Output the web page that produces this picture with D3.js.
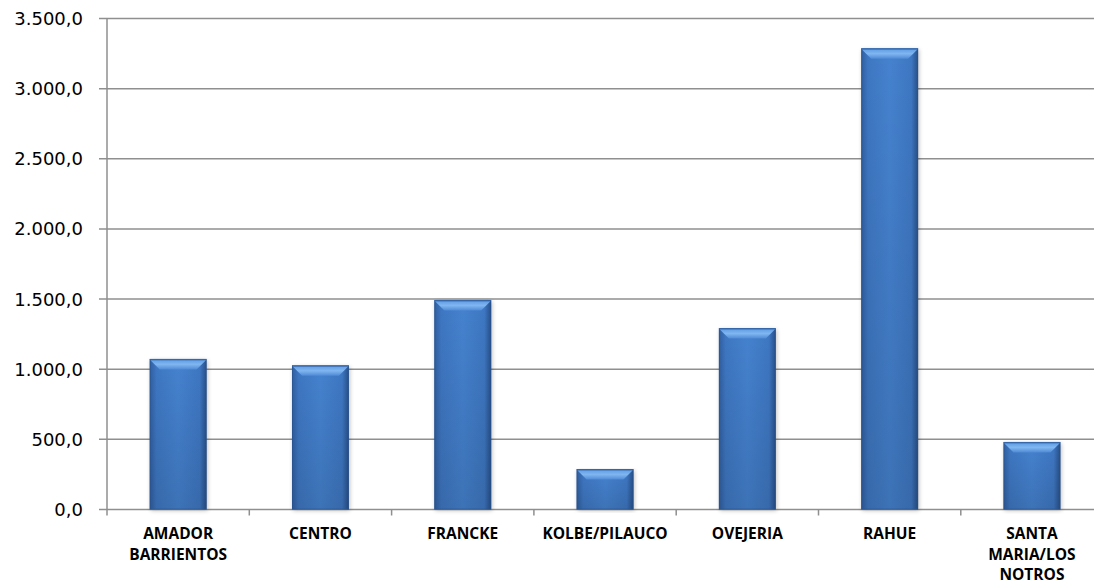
<!DOCTYPE html>
<html>
<head>
<meta charset="utf-8">
<script src="https://cdn.jsdelivr.net/npm/d3@7"></script>
<style>
  html, body { margin: 0; padding: 0; background: #fff; }
  svg { display: block; }
</style>
</head>
<body>
<svg id="chart" width="1094" height="586"></svg>
<script>
const categories = [
  ["AMADOR", "BARRIENTOS"],
  ["CENTRO"],
  ["FRANCKE"],
  ["KOLBE/PILAUCO"],
  ["OVEJERIA"],
  ["RAHUE"],
  ["SANTA", "MARIA/LOS", "NOTROS"]
];
const values = [1070, 1025, 1490, 285, 1290, 3285, 478];
const yTicks = [0, 500, 1000, 1500, 2000, 2500, 3000, 3500];

const svg = d3.select("#chart");
const margin = { left: 107, top: 18.5, bottom: 509.5 };
const bandW = 142.3;

const keys = categories.map((c, i) => i);
const x = d3.scaleBand()
  .domain(keys)
  .range([margin.left, margin.left + bandW * keys.length])
  .paddingInner(0.6).paddingOuter(0.3);
const xb = d3.scaleBand().domain(keys)
  .range([margin.left, margin.left + bandW * keys.length]);
const y = d3.scaleLinear().domain([0, 3500]).range([margin.bottom, margin.top]);

const fmt = v => d3.format(",.1f")(v).replace(/,/g, "#").replace(".", ",").replace(/#/g, ".");

const defs = svg.append("defs");
const body = defs.append("linearGradient").attr("id", "barBody")
  .attr("x1", 0).attr("x2", 1).attr("y1", 0).attr("y2", 0);
body.append("stop").attr("offset", 0).attr("stop-color", "#2f5e9f");
body.append("stop").attr("offset", 0.12).attr("stop-color", "#3e77c2");
body.append("stop").attr("offset", 0.5).attr("stop-color", "#4582cf");
body.append("stop").attr("offset", 0.88).attr("stop-color", "#3e77c2");
body.append("stop").attr("offset", 1).attr("stop-color", "#274f88");
const shade = defs.append("linearGradient").attr("id", "barShade")
  .attr("x1", 0).attr("x2", 0).attr("y1", 0).attr("y2", 1);
shade.append("stop").attr("offset", 0).attr("stop-color", "#000").attr("stop-opacity", 0);
shade.append("stop").attr("offset", 1).attr("stop-color", "#000").attr("stop-opacity", 0.12);
const bevel = defs.append("linearGradient").attr("id", "barBevel")
  .attr("x1", 0).attr("x2", 0).attr("y1", 0).attr("y2", 1);
bevel.append("stop").attr("offset", 0).attr("stop-color", "#5d9be4");
bevel.append("stop").attr("offset", 0.5).attr("stop-color", "#80b6f0");
bevel.append("stop").attr("offset", 1).attr("stop-color", "#4f8ad6");
const blur = defs.append("filter").attr("id", "shadow")
  .attr("x", "-20%").attr("y", "-5%").attr("width", "140%").attr("height", "110%");
blur.append("feGaussianBlur").attr("stdDeviation", 2);

// gridlines
const plotRight = margin.left + bandW * keys.length;
svg.append("g").selectAll("line").data(yTicks).join("line")
  .attr("x1", margin.left - 8).attr("x2", plotRight)
  .attr("y1", d => y(d)).attr("y2", d => y(d))
  .attr("stroke", "#8f8f8f").attr("stroke-width", 1.5);

// y axis line
svg.append("line")
  .attr("x1", margin.left).attr("x2", margin.left)
  .attr("y1", margin.top).attr("y2", margin.bottom + 6)
  .attr("stroke", "#8f8f8f").attr("stroke-width", 1.5);

// category tick marks on baseline
svg.append("g").selectAll("line").data(keys.slice(1)).join("line")
  .attr("x1", d => xb(d)).attr("x2", d => xb(d))
  .attr("y1", margin.bottom).attr("y2", margin.bottom + 6)
  .attr("stroke", "#8f8f8f").attr("stroke-width", 1.5);

// y labels
svg.append("g").selectAll("text").data(yTicks).join("text")
  .attr("x", 83).attr("y", d => y(d))
  .attr("dy", "0.36em")
  .attr("text-anchor", "end")
  .attr("font-family", "'DejaVu Sans', sans-serif")
  .attr("font-size", 18)
  .attr("fill", "#000")
  .text(fmt);

// bars
const bars = svg.append("g").selectAll("g").data(values).join("g");
const bw = x.bandwidth();
bars.append("rect")
  .attr("x", (d, i) => x(i) + 1).attr("y", d => y(d) + 1)
  .attr("width", bw).attr("height", d => y(0) - y(d))
  .attr("fill", "#000").attr("opacity", 0.25)
  .attr("filter", "url(#shadow)");
bars.append("rect")
  .attr("x", (d, i) => x(i)).attr("y", d => y(d))
  .attr("width", bw).attr("height", d => y(0) - y(d))
  .attr("fill", "url(#barBody)");
bars.append("rect")
  .attr("x", (d, i) => x(i)).attr("y", d => y(d))
  .attr("width", bw).attr("height", d => y(0) - y(d))
  .attr("fill", "url(#barShade)");
const bev = 10;
bars.append("path")
  .attr("d", (d, i) => {
    const x0 = x(i), x1 = x(i) + bw, t = y(d);
    const h = Math.min(bev, (y(0) - t) / 2);
    return `M${x0},${t}L${x1},${t}L${x1 - h},${t + h}L${x0 + h},${t + h}Z`;
  })
  .attr("fill", "url(#barBevel)");
bars.append("path")
  .attr("d", (d, i) => {
    const x0 = x(i), x1 = x(i) + bw, t = y(d);
    return `M${x0},${t}L${x1},${t}`;
  })
  .attr("stroke", "#3a6fb3").attr("stroke-width", 1);
bars.append("rect")
  .attr("x", (d, i) => x(i) + 0.5).attr("y", d => y(d) + 0.5)
  .attr("width", bw - 1).attr("height", d => y(0) - y(d) - 1)
  .attr("fill", "none").attr("stroke", "#2a5390").attr("stroke-width", 1).attr("opacity", 0.6);

// category labels
const lab = svg.append("g").selectAll("text").data(categories).join("text")
  .attr("x", (d, i) => xb(i) + xb.bandwidth() / 2)
  .attr("y", 539)
  .attr("text-anchor", "middle")
  .attr("font-family", "'Open Sans', 'DejaVu Sans', sans-serif")
  .attr("font-weight", "bold")
  .attr("font-size", 15.5)
  .attr("fill", "#000");
lab.selectAll("tspan").data(d => d).join("tspan")
  .attr("x", function () { return d3.select(this.parentNode).attr("x"); })
  .attr("dy", (d, j) => j === 0 ? 0 : 20.5)
  .text(d => d);
</script>
</body>
</html>
